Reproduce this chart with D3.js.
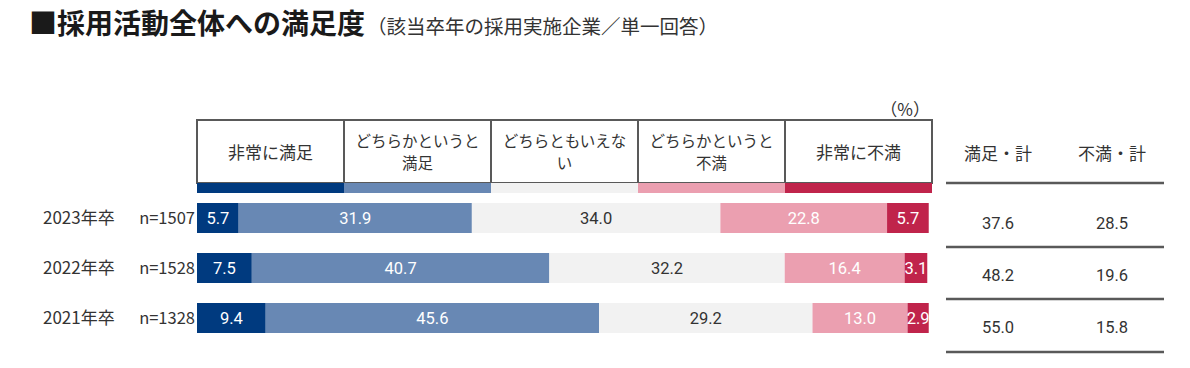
<!DOCTYPE html>
<html><head><meta charset="utf-8">
<script src="https://cdn.jsdelivr.net/npm/d3@7"></script>
<style>
html,body{margin:0;padding:0;background:#fff;}
svg{display:block;font-family:"Noto Sans CJK JP","Noto Sans",sans-serif;}
</style></head>
<body>
<svg id="c" width="1190" height="368"></svg>
<script>
const categories = ["非常に満足", "どちらかというと\n満足", "どちらともいえな\nい", "どちらかというと\n不満", "非常に不満"];
const colors = ["#003a7f", "#6888b4", "#f2f2f2", "#eb9fb0", "#c0244b"];
const labelColors = ["#ffffff", "#ffffff", "#333333", "#ffffff", "#ffffff"];
const years = ["2023年卒", "2022年卒", "2021年卒"];
const nCounts = ["n=1507", "n=1528", "n=1328"];
const v2023 = [5.7, 31.9, 34.0, 22.8, 5.7];
const v2022 = [7.5, 40.7, 32.2, 16.4, 3.1];
const v2021 = [9.4, 45.6, 29.2, 13.0, 2.9];
const satisfiedTotal = [37.6, 48.2, 55.0];
const dissatisfiedTotal = [28.5, 19.6, 15.8];
const totalHeaders = ["満足・計", "不満・計"];

const series = [v2023, v2022, v2021];
const svg = d3.select("#c");

// Title
const title = svg.append("text").attr("x", 29).attr("y", 34);
title.append("tspan").text("■採用活動全体への満足度")
  .attr("font-size", 28).attr("font-weight", "bold").attr("fill", "#1a1a1a");
title.append("tspan").text("（該当卒年の採用実施企業／単一回答）")
  .attr("font-size", 19.5).attr("fill", "#333").attr("dx", 2);

// Scales
const x = d3.scaleLinear().domain([0, 100]).range([197, 928]);
const hx = d3.scaleBand().domain(categories).range([197, 932]);
const y = d3.scaleBand().domain(years).range([193, 343]).paddingInner(0.4).paddingOuter(0.2);

// Header boxes
const hdr = svg.append("g");
hdr.selectAll("rect.box").data(categories).join("rect")
  .attr("x", d => hx(d)).attr("y", 120).attr("width", hx.bandwidth()).attr("height", 63)
  .attr("fill", "none").attr("stroke", "#595959").attr("stroke-width", 2);
hdr.selectAll("rect.strip").data(categories).join("rect")
  .attr("x", d => hx(d)).attr("y", 183).attr("width", hx.bandwidth()).attr("height", 10)
  .attr("fill", (d, i) => colors[i]);
hdr.selectAll("text").data(categories).join("text")
  .attr("text-anchor", "middle").attr("fill", "#333")
  .attr("font-size", d => d.includes("\n") ? 15.5 : 17)
  .each(function(d) {
    const lines = d.split("\n");
    const cx = hx(d) + hx.bandwidth() / 2;
    const t = d3.select(this);
    const y0 = lines.length === 1 ? 159 : 147;
    lines.forEach((ln, i) => t.append("tspan").attr("x", cx).attr("y", y0 + i * 22).text(ln));
  });
svg.append("text").attr("x", 930).attr("y", 116).attr("text-anchor", "end")
  .attr("font-size", 17).attr("fill", "#333").text("（%）");

// Bars
series.forEach((vals, r) => {
  const g = svg.append("g");
  let cum = 0;
  const segs = vals.map((v, i) => { const s = {v, i, x0: cum, x1: cum + v}; cum += v; return s; });
  const yy = y(years[r]);
  g.selectAll("rect").data(segs).join("rect")
    .attr("x", d => x(d.x0)).attr("y", yy).attr("width", d => x(d.x1) - x(d.x0)).attr("height", y.bandwidth())
    .attr("fill", d => colors[d.i]);
  g.selectAll("text").data(segs).join("text")
    .attr("x", d => (x(d.x0) + x(d.x1)) / 2).attr("y", yy + y.bandwidth() / 2 + 6)
    .attr("text-anchor", "middle").attr("font-size", 16.5)
    .attr("font-family", "'Liberation Sans Narrow','Roboto','Noto Sans',sans-serif")
    .attr("fill", d => labelColors[d.i]).text(d => d.v.toFixed(1));
  svg.append("text").attr("x", 43).attr("y", yy + y.bandwidth() / 2 + 6)
    .attr("font-size", 17).attr("fill", "#333").text(years[r]);
  svg.append("text").attr("x", 195).attr("y", yy + y.bandwidth() / 2 + 6)
    .attr("text-anchor", "end").attr("font-size", 16.5).attr("fill", "#333")
    .attr("font-family", "'Liberation Sans Narrow','Noto Sans CJK JP',sans-serif").text(nCounts[r]);
});

// Right columns
const cols = [998, 1112];
totalHeaders.forEach((h, i) => {
  svg.append("text").attr("x", cols[i]).attr("y", 160).attr("text-anchor", "middle")
    .attr("font-size", 17).attr("fill", "#333").text(h);
});
const lineYs = [183, 247, 299, 352];
svg.selectAll("line.sep").data(lineYs).join("line")
  .attr("x1", 946).attr("x2", 1164).attr("y1", d => d).attr("y2", d => d)
  .attr("stroke", "#595959").attr("stroke-width", 2.5);
const valYs = [223, 275, 327];
[satisfiedTotal, dissatisfiedTotal].forEach((arr, c) => {
  svg.append("g").selectAll("text").data(arr).join("text")
    .attr("x", cols[c]).attr("y", (d, i) => valYs[i] + 6).attr("text-anchor", "middle")
    .attr("font-size", 16.5).attr("fill", "#333")
    .attr("font-family", "'Liberation Sans Narrow','Roboto',sans-serif")
    .text(d => d.toFixed(1));
});
</script>
</body></html>
